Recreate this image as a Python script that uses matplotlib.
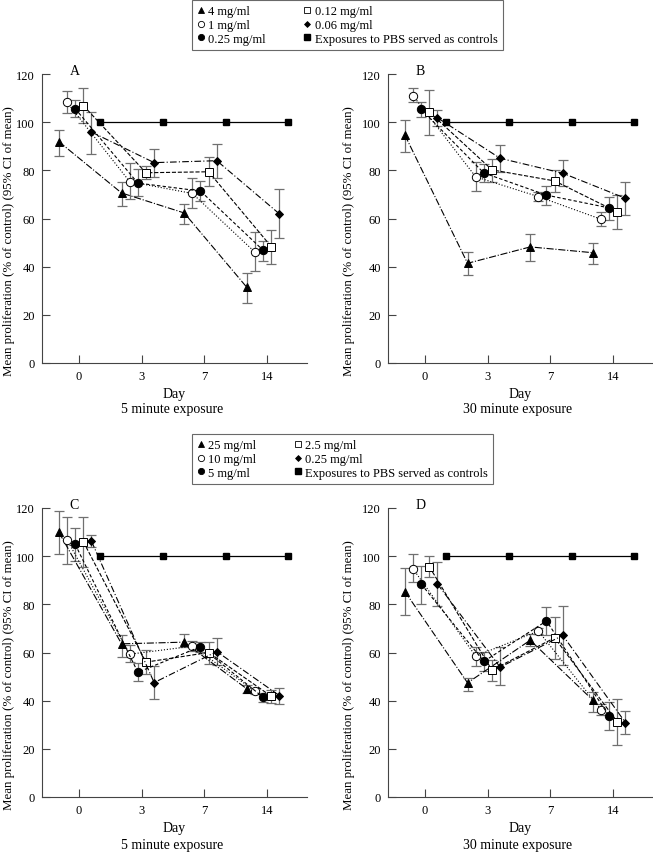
import matplotlib
matplotlib.use("Agg")
import matplotlib.pyplot as plt
from matplotlib.lines import Line2D

plt.rcParams['font.family'] = ['Liberation Serif', 'DejaVu Serif']
plt.rcParams['font.size'] = 9

days = ["0", "3", "7", "14"]
topLabels = ["4 mg/ml", "1 mg/ml", "0.25 mg/ml", "0.12 mg/ml", "0.06 mg/ml"]
bottomLabels = ["25 mg/ml", "10 mg/ml", "5 mg/ml", "2.5 mg/ml", "0.25 mg/ml"]
pbsLabel = "Exposures to PBS served as controls"
pbsValues = [100, 100, 100, 100]

# panel A - 5 minute exposure (rows: series, cols: day 0, 3, 7, 14)
aMean = [[91.9, 70.6, 62.3, 31.4],
         [108.2, 75.3, 70.4, 46.0],
         [105.6, 74.7, 71.4, 46.8],
         [106.9, 79.0, 79.4, 48.3],
         [95.9, 83.2, 84.0, 61.9]]
aLow = [[85.8, 65.3, 57.7, 24.8],
        [103.7, 68.1, 64.4, 38.2],
        [102.0, 69.3, 67.4, 42.5],
        [99.5, 76.3, 73.4, 41.0],
        [86.6, 77.4, 76.8, 51.8]]
aHigh = [[96.9, 75.3, 66.2, 37.5],
         [112.8, 83.2, 77.0, 54.3],
         [109.0, 80.4, 75.4, 50.8],
         [114.3, 81.9, 85.7, 55.4],
         [104.4, 88.7, 91.1, 72.2]]

# panel B - 30 minute exposure
bMean = [[94.6, 41.4, 48.2, 45.8],
         [111.0, 77.3, 69.1, 59.7],
         [105.3, 78.9, 69.7, 64.4],
         [104.2, 80.2, 75.6, 62.7],
         [101.8, 85.0, 78.8, 68.4]]
bLow = [[87.7, 36.6, 42.5, 41.2],
        [108.2, 71.3, 67.3, 57.0],
        [102.2, 75.1, 65.8, 59.5],
        [94.6, 75.2, 70.9, 55.6],
        [98.6, 79.5, 73.3, 61.3]]
bHigh = [[101.0, 45.9, 53.6, 49.8],
         [114.2, 83.4, 71.0, 62.6],
         [108.5, 82.6, 73.5, 69.1],
         [113.2, 84.6, 80.3, 69.8],
         [105.0, 90.5, 84.1, 75.2]]

# panel C - 5 minute exposure
cMean = [[109.9, 63.6, 64.3, 44.9],
         [106.8, 59.3, 62.6, 44.0],
         [104.9, 51.8, 62.4, 41.4],
         [106.0, 56.0, 60.0, 41.8],
         [106.2, 47.5, 60.4, 42.1]]
cLow = [[101.1, 58.3, 62.2, 43.2],
        [96.7, 56.0, 60.6, 42.8],
        [97.9, 48.0, 60.3, 39.6],
        [95.3, 51.1, 55.3, 39.2],
        [103.8, 40.7, 54.9, 38.8]]
cHigh = [[118.6, 67.4, 67.8, 46.4],
         [116.1, 63.1, 64.7, 45.1],
         [111.5, 55.8, 64.3, 43.1],
         [116.4, 61.0, 64.4, 44.4],
         [108.9, 54.3, 66.1, 45.3]]

# panel D - 30 minute exposure
dMean = [[85.3, 47.4, 65.1, 40.2],
         [94.7, 58.5, 68.9, 36.3],
         [88.4, 56.3, 73.1, 33.6],
         [95.6, 52.7, 66.1, 31.2],
         [88.4, 53.9, 67.1, 30.9]]
dLow = [[75.6, 44.2, 62.6, 35.4],
        [89.1, 54.6, 67.6, 34.0],
        [80.3, 52.5, 67.2, 27.9],
        [91.3, 48.0, 57.1, 21.5],
        [79.2, 46.7, 54.7, 26.1]]
dHigh = [[95.0, 49.6, 67.8, 43.8],
         [101.0, 62.2, 70.0, 38.8],
         [96.1, 60.1, 78.8, 39.5],
         [100.1, 56.8, 74.7, 40.5],
         [97.5, 62.4, 79.5, 35.8]]

markers = ['^', 'o', 'o', 's', 'D']
faces = ['black', 'white', 'black', 'white', 'black']
sizes = [5.5, 6, 6, 5.5, 4.5]
styles = ['-.', ':', (0, (3, 2)), '--', (0, (6, 2, 1, 2))]
offsets = [-0.32, -0.19, -0.06, 0.07, 0.2]
pbsOffset = 0.34

W, H = 653, 853


def drawPanel(ax, means, lows, highs, letter, labelX):
    x = list(range(len(days)))
    for i in range(len(means)):
        xs = [v + offsets[i] for v in x]
        errLow = [means[i][j] - lows[i][j] for j in range(len(x))]
        errHigh = [highs[i][j] - means[i][j] for j in range(len(x))]
        ax.errorbar(xs, means[i], yerr=[errLow, errHigh], fmt='none',
                    ecolor='#707070', elinewidth=0.9, capsize=3.5, capthick=0.9, zorder=2)
        ax.plot(xs, means[i], color='black', linestyle=styles[i], linewidth=0.8,
                marker=markers[i], markersize=sizes[i], markerfacecolor=faces[i],
                markeredgecolor='black', markeredgewidth=0.7, zorder=3)
    ax.plot([v + pbsOffset for v in x], pbsValues, color='black', linewidth=0.9,
            marker='s', markersize=5, zorder=3)

    ax.set_xlim(-0.59, 3.64)
    ax.set_ylim(0, 120)
    ax.set_yticks([0, 20, 40, 60, 80, 100, 120])
    ax.set_xticks(x)
    ax.set_xticklabels(days)
    ax.tick_params(direction='in', length=6, width=0.8, color='#444444', labelsize=9, pad=5)
    ax.spines['top'].set_visible(False)
    ax.spines['right'].set_visible(False)
    ax.spines['left'].set_color('#444444')
    ax.spines['bottom'].set_color('#444444')
    ax.set_xlabel("Day", fontsize=10, labelpad=4)
    ax.set_ylabel("Mean proliferation (% of control) (95% CI of mean)", fontsize=9.3)
    ax.yaxis.set_label_coords(labelX, 0.426)
    ax.text(0.105, 1.012, letter, transform=ax.transAxes, fontsize=10, va='center')


def makeLegend(fig, labels, topPx):
    handles = []
    for i in range(len(labels)):
        handles.append(Line2D([], [], linestyle='none', marker=markers[i], markersize=sizes[i] - 1.5,
                              markerfacecolor=faces[i], markeredgecolor='black', markeredgewidth=0.6))
    handles.append(Line2D([], [], linestyle='none', marker='s', markersize=4, color='black'))
    leg = fig.legend(handles, labels + [pbsLabel], ncol=2, loc='upper left',
                     bbox_to_anchor=(192 / W, 1 - topPx / H), fontsize=9, frameon=True,
                     fancybox=False, edgecolor='#444444', handlelength=0.6, handletextpad=0.3,
                     labelspacing=0.15, columnspacing=3.0, borderpad=0.4, borderaxespad=0)
    leg.get_frame().set_linewidth(0.8)


fig = plt.figure(figsize=(W / 100, H / 100), dpi=100)

axA = fig.add_axes([42 / W, 1 - 364 / H, 265 / W, 289 / H])
axB = fig.add_axes([388 / W, 1 - 364 / H, 265 / W, 289 / H])
axC = fig.add_axes([42 / W, 1 - 798 / H, 265 / W, 289 / H])
axD = fig.add_axes([388 / W, 1 - 798 / H, 265 / W, 289 / H])

drawPanel(axA, aMean, aLow, aHigh, "A", -0.102)
drawPanel(axB, bMean, bLow, bHigh, "B", -0.125)
drawPanel(axC, cMean, cLow, cHigh, "C", -0.102)
drawPanel(axD, dMean, dLow, dHigh, "D", -0.125)

fig.text(172 / W, 1 - 410 / H, "5 minute exposure", ha='center', va='center', fontsize=10)
fig.text(518 / W, 1 - 410 / H, "30 minute exposure", ha='center', va='center', fontsize=10)
fig.text(172 / W, 1 - 846 / H, "5 minute exposure", ha='center', va='center', fontsize=10)
fig.text(518 / W, 1 - 846 / H, "30 minute exposure", ha='center', va='center', fontsize=10)

makeLegend(fig, topLabels, 1)
makeLegend(fig, bottomLabels, 435)

fig.savefig("out.png", dpi=100)
